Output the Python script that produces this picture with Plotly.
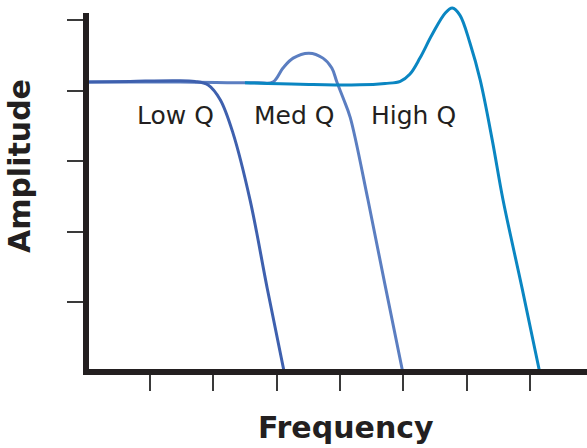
import plotly.graph_objects as go

# Values (frequency units = tick spacing)
low_q_freq = [0.02, 0.69, 1.40, 1.71, 1.92, 2.11, 2.31, 2.58, 2.85, 3.12]
low_q_amp = [4.12, 4.13, 4.14, 4.13, 4.08, 3.87, 3.40, 2.45, 1.20, 0.0]

med_q_freq = [0.02, 1.48, 2.70, 2.94, 3.10, 3.26, 3.51, 3.73, 3.87, 3.95, 4.05,
              4.16, 4.44, 4.71, 4.99]
med_q_amp = [4.12, 4.12, 4.11, 4.12, 4.32, 4.46, 4.53, 4.46, 4.32, 4.12, 3.89,
             3.62, 2.45, 1.24, 0.0]

high_q_freq = [2.50, 3.37, 4.31, 4.71, 4.95, 5.10, 5.26, 5.45, 5.66, 5.77, 5.89,
               6.05, 6.21, 6.40, 6.57, 6.87, 7.15]
high_q_amp = [4.11, 4.09, 4.08, 4.10, 4.13, 4.23, 4.46, 4.79, 5.10, 5.17, 5.07,
              4.67, 4.15, 3.30, 2.45, 1.20, 0.0]

x_ticks = [1, 2, 3, 4, 5, 6, 7]
y_ticks = [1, 2, 3, 4, 5]
curve_labels = ["Low Q", "Med Q", "High Q"]

ink = "#231f20"
colors = {"Low Q": "#3e60ae", "Med Q": "#5b7ec1", "High Q": "#0a86c2"}

fig = go.Figure()

# Med under Low on the main axes; High Q peaks above the axis line top,
# so it sits on a taller twin axis with the same scale
for name, xs, ys, yax in [
    ("Med Q", med_q_freq, med_q_amp, "y"),
    ("Low Q", low_q_freq, low_q_amp, "y"),
    ("High Q", high_q_freq, high_q_amp, "y2"),
]:
    fig.add_trace(go.Scatter(
        x=xs, y=ys, name=name, mode="lines",
        line=dict(color=colors[name], width=3, shape="spline", smoothing=1),
        xaxis="x", yaxis=yax, hoverinfo="skip",
    ))

label_font = dict(family="DejaVu Sans", size=25, color=ink)
label_pos = {"Low Q": (1.40, 3.65), "Med Q": (3.28, 3.65), "High Q": (5.16, 3.65)}
annotations = []
for lab in curve_labels:
    lx, ly = label_pos[lab]
    annotations.append(dict(x=lx, y=ly, xref="x", yref="y", text=lab,
                            showarrow=False, font=label_font))

title_font = dict(family="DejaVu Sans", size=30, color=ink, weight="bold")
annotations.append(dict(text="Frequency", x=0.517, y=-0.16, xref="paper", yref="paper",
                        xanchor="center", yanchor="middle", showarrow=False, font=title_font))
annotations.append(dict(text="Amplitude", x=-0.1405, y=0.556, xref="paper", yref="paper",
                        xanchor="center", yanchor="middle", textangle=-90,
                        showarrow=False, font=title_font))

axis_style = dict(
    showline=True, linewidth=6, linecolor=ink,
    ticks="outside", ticklen=16, tickwidth=1.5, tickcolor="#3a3a3a",
    showticklabels=False, showgrid=False, zeroline=False,
)

fig.update_layout(
    width=587, height=448,
    margin=dict(l=89, r=0, t=4, b=79),
    paper_bgcolor="white", plot_bgcolor="rgba(0,0,0,0)",
    showlegend=False,
    xaxis=dict(range=[0.04, 7.895], tickvals=x_ticks, anchor="y", **axis_style),
    yaxis=dict(range=[0.05, 5.1], domain=[0, 0.9753], tickvals=y_ticks, anchor="x", **axis_style),
    yaxis2=dict(range=[0.05, 5.227], domain=[0, 1], anchor="x", visible=False),
    annotations=annotations,
)

# drop the default 8px body margin so the figure sits at the page corner
fig.write_html("out.html", config={"displayModeBar": False},
               post_script="document.body.style.margin='0';")
